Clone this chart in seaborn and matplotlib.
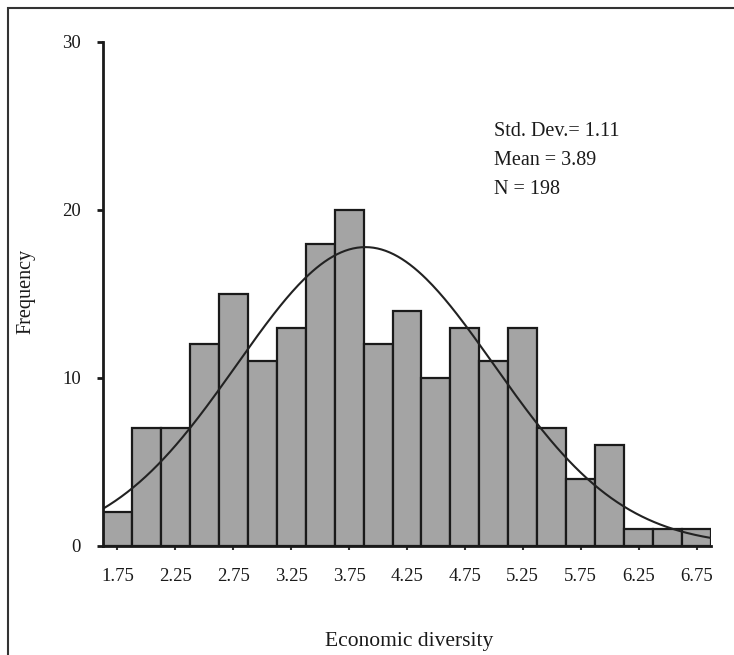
import numpy as np
import pandas as pd
import matplotlib
matplotlib.use("Agg")
import matplotlib.pyplot as plt
from matplotlib.patches import Rectangle
import seaborn as sns

# Histogram of economic diversity (bin width 0.25)
bin_centers = [1.75, 2.00, 2.25, 2.50, 2.75, 3.00, 3.25, 3.50, 3.75, 4.00, 4.25,
               4.50, 4.75, 5.00, 5.25, 5.50, 5.75, 6.00, 6.25, 6.50, 6.75]
frequencies = [2, 7, 7, 12, 15, 11, 13, 18, 20, 12, 14,
               10, 13, 11, 13, 7, 4, 6, 1, 1, 1]
x_tick_labels = ["1.75", "2.25", "2.75", "3.25", "3.75", "4.25",
                 "4.75", "5.25", "5.75", "6.25", "6.75"]
y_ticks = [0, 10, 20, 30]
std_dev = 1.11
mean = 3.89
n_total = 198
bin_width = 0.25

sns.set_theme(style="white")
plt.rcParams["font.family"] = ["Liberation Serif", "DejaVu Serif"]
plt.rcParams["text.color"] = "#1a1a1a"

W, H = 734, 655
fig = plt.figure(figsize=(W / 100, H / 100), dpi=100)
fig.patch.set_facecolor("white")
ax = fig.add_axes([103 / W, 1 - 546 / H, (711 - 103) / W, (546 - 42) / H])

df = pd.DataFrame({"diversity": bin_centers, "count": frequencies})
lo = bin_centers[0] - bin_width / 2
hi = bin_centers[-1] + bin_width / 2

sns.histplot(data=df, x="diversity", weights="count",
             binwidth=bin_width, binrange=(lo, hi),
             color="#a4a4a4", edgecolor="#1a1a1a", linewidth=1.6,
             alpha=1, ax=ax)

# Fitted normal curve scaled to counts
xs = np.linspace(lo, hi, 300)
ys = n_total * bin_width * np.exp(-0.5 * ((xs - mean) / std_dev) ** 2) / (std_dev * np.sqrt(2 * np.pi))
sns.lineplot(x=xs, y=ys, color="#222222", linewidth=1.5, ax=ax)

ax.set_xlim(lo, hi)
ax.set_ylim(0, 30)
ax.set_xlabel("")
ax.set_ylabel("")

ax.set_xticks([float(t) for t in x_tick_labels])
ax.set_xticklabels(x_tick_labels)
ax.set_yticks(y_ticks)
ax.set_yticklabels([str(t) for t in y_ticks])
ax.tick_params(axis="x", length=3, width=1.5, pad=13, labelsize=13.5,
               color="#333333", labelcolor="#1a1a1a", direction="out", bottom=True)
ax.tick_params(axis="y", length=4, width=2, pad=12, labelsize=13.5,
               color="#1a1a1a", labelcolor="#1a1a1a", direction="out", left=True)

for side in ["top", "right"]:
    ax.spines[side].set_visible(False)
for side in ["left", "bottom"]:
    ax.spines[side].set_linewidth(2)
    ax.spines[side].set_color("#1a1a1a")

# Summary statistics
stats = [f"Std. Dev.= {std_dev:.2f}", f"Mean = {mean:.2f}", f"N = {n_total}"]
for i, s in enumerate(stats):
    fig.text(494 / W, 1 - (136 + 29 * i) / H, s, fontsize=14.5,
             ha="left", va="baseline")

fig.text(409 / W, 1 - 646 / H, "Economic diversity", fontsize=15.5,
         ha="center", va="baseline")
fig.text(26 / W, 1 - 291 / H, "Frequency", fontsize=14.5, rotation=90,
         ha="center", va="center")

# Outer frame
fig.patches.append(Rectangle((8 / W, -0.2), 1.2, 1.2 - 8 / H,
                             transform=fig.transFigure, fill=False,
                             linewidth=1.5, edgecolor="#333333"))

fig.savefig("out.png", dpi=100, facecolor="white")
